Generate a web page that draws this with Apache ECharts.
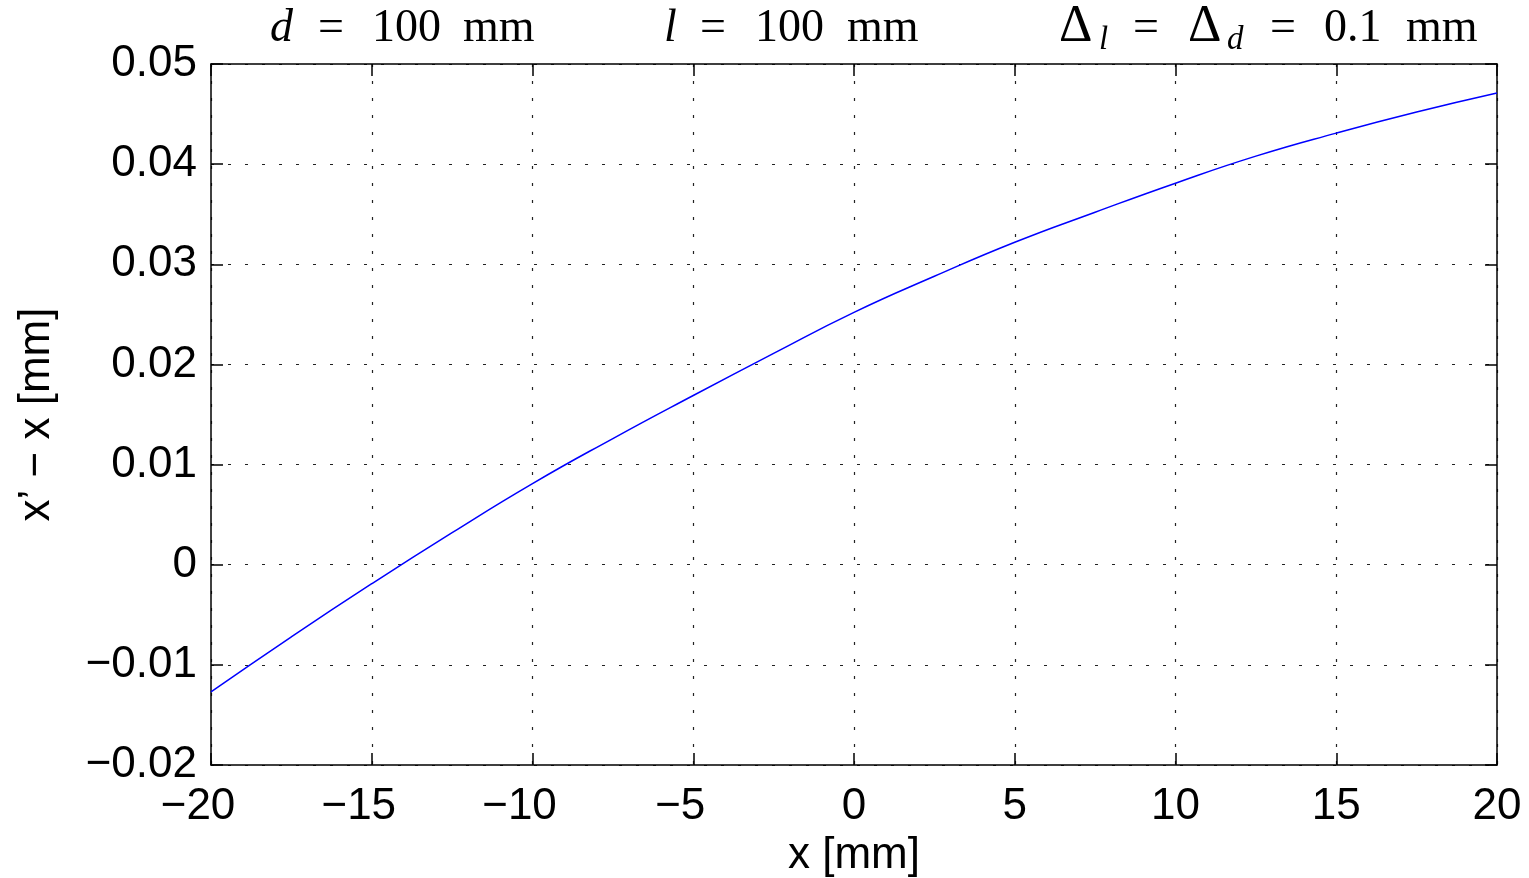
<!DOCTYPE html>
<html>
<head>
<meta charset="utf-8">
<script src="https://cdn.jsdelivr.net/npm/echarts@6/dist/echarts.min.js"></script>
<style>
  html, body { margin: 0; padding: 0; background: #ffffff; }
  #chart { width: 1529px; height: 878px; }
</style>
</head>
<body>
<div id="chart"></div>
<script>
// Position offset x and the resulting measurement error x' - x, both in mm
const xValues = [-20, -17.5, -15, -12.5, -10, -7.5, -5, -2.5, 0, 2.5, 5, 7.5, 10, 12.5, 15, 17.5, 20];
const errValues = [-0.0127, -0.0072, -0.0019, 0.0032, 0.0081, 0.0126, 0.0169, 0.0211, 0.0252,
                   0.0288, 0.0322, 0.0352, 0.0381, 0.0408, 0.0431, 0.0452, 0.0471];

// Axis ranges and tick spacing
const xRange = [-20, 20];
const xStep = 5;
const yRange = [-0.02, 0.05];
const yStep = 0.01;

// Parameter annotations above the plot
const paramLine = [
  { text: 'd', x: 270, style: 'it' },
  { text: '=', x: 318, style: 'rm' },
  { text: '100', x: 372, style: 'rm' },
  { text: 'mm', x: 463, style: 'rm' },
  { text: 'l', x: 664, style: 'it' },
  { text: '=', x: 700, style: 'rm' },
  { text: '100', x: 755, style: 'rm' },
  { text: 'mm', x: 847, style: 'rm' },
  { text: 'Δ', x: 1059, style: 'big' },
  { text: 'l', x: 1099, style: 'sub' },
  { text: '=', x: 1133, style: 'rm' },
  { text: 'Δ', x: 1188, style: 'big' },
  { text: 'd', x: 1227, style: 'sub' },
  { text: '=', x: 1270, style: 'rm' },
  { text: '0.1', x: 1324, style: 'rm' },
  { text: 'mm', x: 1406, style: 'rm' }
];

const SANS = "'Liberation Sans', Arial, Helvetica, sans-serif";
const SERIF = "'Liberation Serif', 'Times New Roman', serif";
const MINUS = '\u2212';

const fmtY = v => Math.abs(v) < 1e-9 ? '0' : v.toFixed(2).replace('-', MINUS);
// Negative x labels keep their digits centred on the tick, the minus hangs to the left
const fmtX = v => {
  const n = Math.round(v);
  return n < 0 ? '{m|' + MINUS + '}{d|' + (-n) + '}{p| }' : '{d|' + n + '}';
};

const gridLine = { show: true, lineStyle: { color: '#222', width: 1.2, type: [3, 14] } };
const boxLine = { show: true, onZero: false, lineStyle: { color: '#000', width: 1.5 } };
const innerTick = { show: true, inside: true, length: 12, lineStyle: { color: '#000', width: 1.5 } };
const tickFont = { color: '#000', fontSize: 44, fontFamily: SANS, hideOverlap: false,
                   showMinLabel: true, showMaxLabel: true };
const labelRich = {
  m: { color: '#000', fontSize: 44, fontFamily: SANS },
  d: { color: '#000', fontSize: 44, fontFamily: SANS },
  p: { color: '#000', fontSize: 44, fontFamily: SANS, width: 26 }
};

// size, slant and baseline of each annotation token style
const tokenStyles = {
  rm: { size: 46, slant: 'normal', base: 44 },
  it: { size: 46, slant: 'italic', base: 44 },
  big: { size: 52, slant: 'normal', base: 44 },
  sub: { size: 33, slant: 'italic', base: 51 }
};

const graphicTexts = paramLine.map(t => {
  const s = tokenStyles[t.style];
  return {
    type: 'text',
    left: t.x,
    top: s.base - Math.round(s.size * 0.83),
    style: {
      text: t.text,
      fill: '#000',
      font: s.slant + ' ' + s.size + 'px ' + SERIF
    }
  };
});

const chart = echarts.init(document.getElementById('chart'), null, { renderer: 'canvas' });

chart.setOption({
  backgroundColor: '#ffffff',
  animation: false,
  grid: { left: 211, right: 32, top: 64, bottom: 113, containLabel: false, outerBoundsMode: 'none' },
  xAxis: [
    {
      type: 'value', position: 'bottom', min: xRange[0], max: xRange[1], interval: xStep,
      axisLine: boxLine, axisTick: innerTick, splitLine: gridLine,
      axisLabel: Object.assign({ margin: 20, formatter: fmtX, rich: labelRich }, tickFont),
      name: 'x [mm]', nameLocation: 'middle', nameGap: 68,
      nameTextStyle: { color: '#000', fontSize: 44, fontFamily: SANS }
    },
    {
      type: 'value', position: 'top', min: xRange[0], max: xRange[1], interval: xStep,
      axisLine: boxLine, axisTick: innerTick, splitLine: { show: false },
      axisLabel: { show: false }
    }
  ],
  yAxis: [
    {
      type: 'value', position: 'left', min: yRange[0], max: yRange[1], interval: yStep,
      axisLine: boxLine, axisTick: innerTick, splitLine: gridLine,
      axisLabel: Object.assign({ margin: 14, formatter: fmtY }, tickFont),
      name: 'x\u2019 \u2212 x [mm]', nameLocation: 'middle', nameGap: 152,
      nameTextStyle: { color: '#000', fontSize: 44, fontFamily: SANS }
    },
    {
      type: 'value', position: 'right', min: yRange[0], max: yRange[1], interval: yStep,
      axisLine: boxLine, axisTick: innerTick, splitLine: { show: false },
      axisLabel: { show: false }
    }
  ],
  series: [
    {
      type: 'line',
      xAxisIndex: 0,
      yAxisIndex: 0,
      data: xValues.map((x, i) => [x, errValues[i]]),
      smooth: true,
      showSymbol: false,
      lineStyle: { color: '#0000ff', width: 1.5 },
      z: 5
    }
  ],
  graphic: graphicTexts
});
</script>
</body>
</html>
